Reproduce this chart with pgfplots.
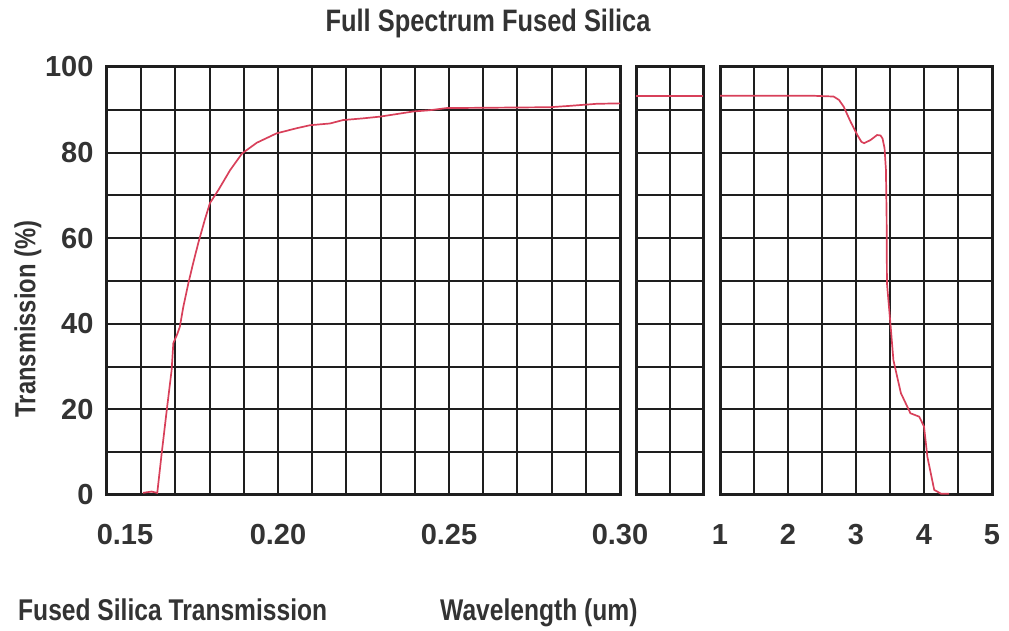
\documentclass[border=0pt]{standalone}
\usepackage{pgfplots}
\pgfplotsset{compat=1.18}
\usepackage{fontspec}
\setmainfont{Liberation Sans}
\newfontfamily\condfont[FakeStretch=0.82]{Liberation Sans}
\definecolor{txt}{HTML}{333333}
\definecolor{gridc}{HTML}{1E1E1E}
\definecolor{curve}{HTML}{D8405A}

\pgfplotsset{
 panel/.style={
  scale only axis, anchor=south west,
  height=428pt, ymin=0, ymax=100,
  ytick={0,20,40,60,80,100}, minor ytick={10,30,50,70,90},
  grid=both,
  major grid style={gridc, line width=2pt},
  minor grid style={gridc, line width=2pt},
  axis line style={gridc, line width=3pt},
  major tick length=0pt, minor tick length=0pt,
  tick label style={font=\bfseries\fontsize{29}{29}\selectfont, text=txt},
  xticklabel style={yshift=-26pt},
  yticklabel style={xshift=-10pt},
  /pgf/number format/assume math mode=true,
  clip=true,
 },
 curvestyle/.style={curve, line width=1.7pt, no markers},
}

\begin{document}
\begin{tikzpicture}
\useasboundingbox (0,0) rectangle (1009pt,631pt);

% left panel
\begin{axis}[panel, at={(107pt,136pt)}, width=513pt,
  xmin=0.15, xmax=0.30,
  xtick={0.15,0.20,0.25,0.30}, xticklabels={\hspace*{36pt}0.15,0.20,0.25,0.30},
  minor xtick={0.16,0.17,0.18,0.19,0.21,0.22,0.23,0.24,0.26,0.27,0.28,0.29},
  yticklabels={0,20,40,60,80,100}]
\addplot[curvestyle] coordinates {
(0.1605,0.5) (0.1630,0.8) (0.1647,0.5) (0.1660,9.8) (0.1675,20)
(0.1689,29.2) (0.1694,35.5) (0.1705,37.5) (0.1713,39.3) (0.1723,43.9)
(0.1738,49.5) (0.1752,54.2) (0.1767,58.9) (0.1786,64.3) (0.1801,68.2)
(0.1826,71.3) (0.1860,75.9) (0.1895,79.8) (0.1938,82.3) (0.1996,84.5)
(0.2055,85.7) (0.2094,86.4) (0.2152,86.8) (0.2190,87.6) (0.2249,88.0)
(0.2298,88.4) (0.2347,89.0) (0.2395,89.6) (0.2444,89.9) (0.2493,90.4)
(0.2795,90.6) (0.2850,90.9) (0.2932,91.4) (0.3000,91.5)
};
\end{axis}

% middle panel
\begin{axis}[panel, at={(636pt,136pt)}, width=67pt,
  xmin=0, xmax=2, xtick={1}, xticklabels={}, yticklabels={}]
\addplot[curvestyle] coordinates {(0,93.3) (2,93.3)};
\end{axis}

% right panel
\begin{axis}[panel, at={(720pt,136pt)}, width=272pt,
  xmin=1, xmax=5, xtick={1,2,3,4,5}, xticklabels={1,2,3,4,5},
  minor xtick={1.5,2.5,3.5,4.5}, yticklabels={}]
\addplot[curvestyle] coordinates {
(1.00,93.3) (2.33,93.3) (2.67,93.1) (2.75,92.3) (2.82,90.7) (2.92,87.2)
(3.02,84.1) (3.08,82.5) (3.12,82.2) (3.21,82.9) (3.31,84.1) (3.36,84.0)
(3.39,83.3) (3.42,81) (3.44,76) (3.45,65) (3.455,49.5) (3.51,39.3)
(3.55,31.5) (3.66,23.8) (3.80,19.1) (3.93,18.3) (4.00,16.0) (4.05,8.9)
(4.15,1.2) (4.25,0.3) (4.37,0.3)
};
\end{axis}

\node[anchor=base, text=txt, font=\condfont\bfseries\fontsize{31}{31}\selectfont, inner sep=0pt]
  at (488pt,599pt) {Full Spectrum Fused Silica};
\node[rotate=90, text=txt, font=\condfont\bfseries\fontsize{29}{29}\selectfont, inner sep=0pt]
  at (28pt,312pt) {Transmission (\%)};
\node[anchor=base west, text=txt, font=\condfont\bfseries\fontsize{30}{30}\selectfont, inner sep=0pt]
  at (18pt,10pt) {Fused Silica Transmission};
\node[anchor=base west, text=txt, font=\condfont\bfseries\fontsize{30}{30}\selectfont, inner sep=0pt]
  at (440pt,10pt) {Wavelength (um)};
\end{tikzpicture}
\end{document}
